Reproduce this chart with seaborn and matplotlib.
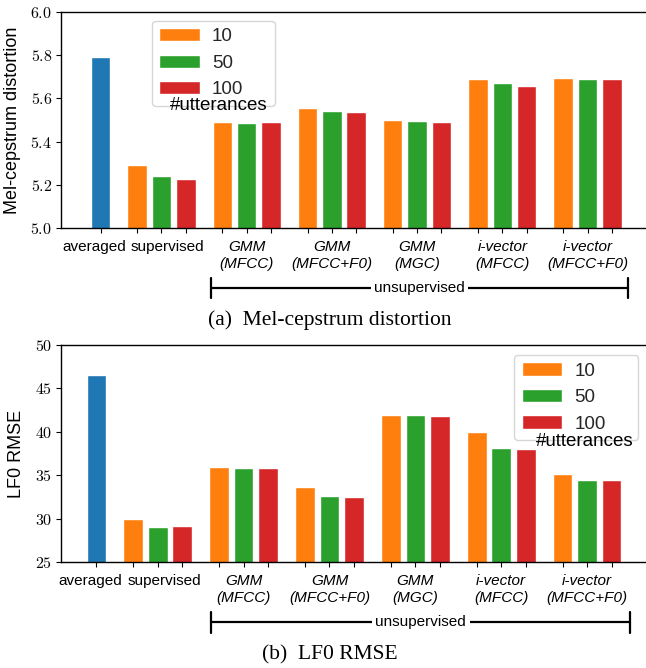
"""
Mel-cepstrum distortion and LF0 RMSE for adaptation methods, two bar panels.
"""

import matplotlib

matplotlib.use("Agg")
import matplotlib.pyplot as plt
import pandas as pd
import seaborn as sns
from matplotlib.patches import Patch
from matplotlib.ticker import FuncFormatter

methods = [
    "averaged",
    "supervised",
    "GMM\n(MFCC)",
    "GMM\n(MFCC+F0)",
    "GMM\n(MGC)",
    "i-vector\n(MFCC)",
    "i-vector\n(MFCC+F0)",
]
utterances = ["10", "50", "100"]

# (a) Mel-cepstrum distortion
mcd_averaged = 5.79
mcd_10 = [5.29, 5.49, 5.555, 5.50, 5.69, 5.694]
mcd_50 = [5.24, 5.485, 5.54, 5.495, 5.67, 5.69]
mcd_100 = [5.225, 5.49, 5.535, 5.49, 5.657, 5.69]

# (b) LF0 RMSE
lf0_averaged = 46.5
lf0_10 = [29.9, 35.9, 33.6, 41.9, 39.95, 35.1]
lf0_50 = [29.0, 35.8, 32.6, 41.9, 38.1, 34.5]
lf0_100 = [29.1, 35.8, 32.45, 41.8, 38.0, 34.5]

colors = {"averaged": "#1f77b4", "10": "#ff7f0e", "50": "#2ca02c", "100": "#d62728"}


def make_frame(avg, s10, s50, s100):
    # averaged at 0, then groups of three bars with a 0.5 gap between groups
    rows = [{"pos": 0.0, "value": avg, "series": "averaged"}]
    for g, vals in enumerate(zip(s10, s50, s100)):
        start = 1.5 + 3.5 * g
        for k, (lab, v) in enumerate(zip(utterances, vals)):
            rows.append({"pos": start + k, "value": v, "series": lab})
    return pd.DataFrame(rows)


sns.set_style("ticks")
plt.rcParams["font.family"] = ["Liberation Sans", "DejaVu Sans"]
plt.rcParams["mathtext.fontset"] = "cm"

fig = plt.figure(figsize=(6.46, 6.68), dpi=100)
ax_a = fig.add_axes([0.0938, 0.6587, 0.9062, 0.3234])
ax_b = fig.add_axes([0.0938, 0.1587, 0.9062, 0.3249])


def draw_panel(ax, df, ylabel, ylim, yticks, fmt, xlim, legend_box, note_xy, span):
    sns.barplot(
        data=df,
        x="pos",
        y="value",
        hue="series",
        hue_order=["averaged"] + utterances,
        palette=colors,
        native_scale=True,
        dodge=False,
        width=0.8,
        saturation=1,
        errorbar=None,
        legend=False,
        ax=ax,
    )
    ax.set_xlim(*xlim)
    ax.set_ylim(*ylim)
    ax.set_yticks(yticks)
    ax.yaxis.set_major_formatter(FuncFormatter(fmt))
    ax.tick_params(axis="y", labelsize=11.5, length=3.5, pad=2.5, color="black", labelcolor="black")
    ax.set_ylabel(ylabel, fontsize=13, color="black", labelpad=7)
    ax.set_xlabel("")

    # a tick under every bar, group names centred below (no tick mark)
    ax.xaxis.remove_overlapping_locs = False
    ax.set_xticks(df["pos"].tolist())
    ax.set_xticklabels([])
    centers = [-0.25, 2.75] + [2.5 + 3.5 * g for g in range(1, 6)]
    ax.set_xticks(centers, labels=methods, minor=True, linespacing=1.3)
    for i, lab in enumerate(ax.get_xticklabels(minor=True)):
        if i >= 2:
            lab.set_fontstyle("italic")
    ax.tick_params(axis="x", which="major", length=3.5, color="black")
    ax.tick_params(axis="x", which="minor", length=0, pad=8.5, labelsize=11, labelcolor="black")

    for side in ("left", "bottom", "top"):
        ax.spines[side].set_color("black")
        ax.spines[side].set_linewidth(1.0)
    ax.spines["right"].set_visible(False)

    handles = [Patch(facecolor=colors[u], label=u) for u in utterances]
    leg = ax.legend(
        handles=handles,
        loc="upper left",
        bbox_to_anchor=legend_box,
        mode="expand",
        borderaxespad=0,
        fontsize=13.5,
        handlelength=2.15,
        handleheight=0.7,
        handletextpad=0.65,
        labelspacing=0.5,
        frameon=True,
    )
    leg.get_frame().set_edgecolor("#cccccc")
    leg.set_zorder(5)
    ax.text(*note_xy, "#utterances", transform=ax.transAxes, ha="center", va="center",
            fontsize=13.5, color="black", zorder=6)

    # bracket over the unsupervised methods
    tr = ax.get_xaxis_transform()
    x0, x1 = span
    y, h = -0.278, 0.047
    ax.plot([x0, x1], [y, y], color="black", lw=1.6, transform=tr, clip_on=False)
    for x in (x0, x1):
        ax.plot([x, x], [y - h, y + h], color="black", lw=1.6, transform=tr, clip_on=False)
    ax.text((x0 + x1) / 2, y, "unsupervised", transform=tr, ha="center", va="center",
            fontsize=11, color="black",
            bbox=dict(facecolor="white", edgecolor="none", pad=2.5))


draw_panel(
    ax_a,
    make_frame(mcd_averaged, mcd_10, mcd_50, mcd_100),
    "Mel-cepstrum distortion",
    (5.0, 6.0),
    [5.0, 5.2, 5.4, 5.6, 5.8, 6.0],
    lambda v, p: f"${v:.1f}$",
    (-1.64, 22.4),
    (0.156, 0.96, 0.2106, 0.0),
    (0.27, 0.567),
    (4.53, 21.66),
)
draw_panel(
    ax_b,
    make_frame(lf0_averaged, lf0_10, lf0_50, lf0_100),
    "LF0 RMSE",
    (25, 50),
    [25, 30, 35, 40, 45, 50],
    lambda v, p: f"${v:.0f}$",
    (-1.46, 22.4),
    (0.775, 0.954, 0.212, 0.0),
    (0.896, 0.555),
    (4.67, 21.76),
)

fig.text(0.511, 1 - 320 / 668, "(a)  Mel-cepstrum distortion", ha="center", va="center",
         family="Liberation Serif", fontsize=15.5, color="black")
fig.text(0.511, 1 - 655 / 668, "(b)  LF0 RMSE", ha="center", va="center",
         family="Liberation Serif", fontsize=15.5, color="black")

fig.savefig("out.png", dpi=100)
